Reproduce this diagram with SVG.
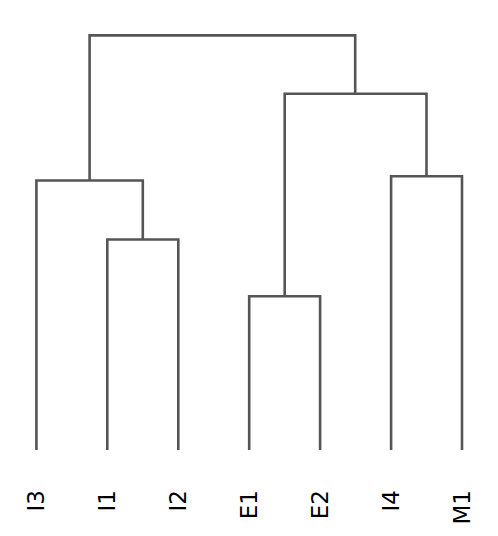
<svg xmlns="http://www.w3.org/2000/svg" width="498" height="536" viewBox="0 0 498 536">
<style>
.link{fill:none;stroke:#555555;stroke-width:2.6;stroke-linejoin:miter;stroke-linecap:butt}
.lbl{font-family:"DejaVu Sans",sans-serif;font-size:23px;fill:#000000;text-anchor:end}
</style>
<rect width="498" height="536" fill="#ffffff"/>
<g id="connectors">
<polyline class="link" points="107.3,450 107.3,239.5 178.3,239.5 178.3,450"/>
<polyline class="link" points="36.4,450 36.4,180.5 142.8,180.5 142.8,239.5"/>
<polyline class="link" points="249.2,450 249.2,296.3 320.1,296.3 320.1,450"/>
<polyline class="link" points="391.1,450 391.1,176.3 462,176.3 462,450"/>
<polyline class="link" points="284.7,296.3 284.7,93.7 426.5,93.7 426.5,176.3"/>
<polyline class="link" points="89.6,180.5 89.6,35.4 355.2,35.4 355.2,93.7"/>
</g>
<g id="leaf-I3"><text class="lbl" transform="translate(44.4,490) rotate(-90)">I3</text></g>
<g id="leaf-I1"><text class="lbl" transform="translate(115.3,490) rotate(-90)">I1</text></g>
<g id="leaf-I2"><text class="lbl" transform="translate(186.3,490) rotate(-90)">I2</text></g>
<g id="leaf-E1"><text class="lbl" transform="translate(257.2,490) rotate(-90)">E1</text></g>
<g id="leaf-E2"><text class="lbl" transform="translate(328.1,490) rotate(-90)">E2</text></g>
<g id="leaf-I4"><text class="lbl" transform="translate(399.1,490) rotate(-90)">I4</text></g>
<g id="leaf-M1"><text class="lbl" transform="translate(470,490) rotate(-90)">M1</text></g>
</svg>
